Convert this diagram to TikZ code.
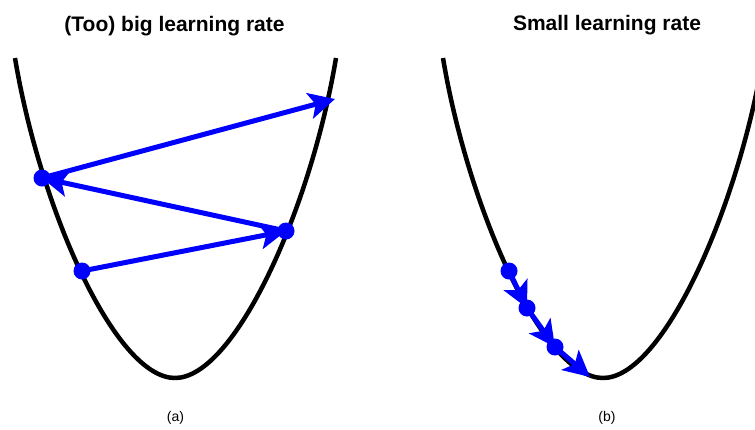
\documentclass[tikz,border=0pt]{standalone}
\usepackage{fontspec}
\setmainfont{Liberation Sans}
\usetikzlibrary{arrows.meta}
\begin{document}
\begin{tikzpicture}[x=1pt,y=-1pt,
  curve/.style={line width=4.5pt, black, line join=round},
  stepline/.style={line width=5pt, blue, -{Stealth[length=26pt,width=26pt,inset=6pt]}},
  dot/.style={circle, fill=blue, inner sep=0pt, minimum size=17pt},
  title/.style={font=\fontsize{21}{25}\selectfont\bfseries, anchor=base, inner sep=0pt},
  caption/.style={font=\fontsize{14}{17}\selectfont, inner sep=0pt}]
\useasboundingbox (0,0) rectangle (755,429);

% titles and captions
\node[title] (t1) at (174.5,31) {(Too) big learning rate};
\node[title] (t2) at (607,30) {Small learning rate};
\node[caption] (c1) at (175.5,418) {(a)};
\node[caption] (c2) at (607,418) {(b)};

% loss curves
\draw[curve] (15,58) .. controls (40,208) and (115,378) .. (175,378)
                     .. controls (235,378) and (311,208) .. (336,58);
\begin{scope}
\clip (0,0) rectangle (755,429);
\draw[curve] (443,58) .. controls (468,208) and (543,378) .. (603,378)
                      .. controls (663,378) and (738,208) .. (763,58);
\end{scope}

% big learning rate steps
\node[dot] (a1) at (82,271) {};
\node[dot] (a2) at (286,231) {};
\node[dot] (a3) at (42,178) {};
\coordinate (a4) at (335,99);
\draw[stepline] (a1.center) -- (a2.center);
\draw[stepline] (a2.center) -- (a3.center);
\draw[stepline] (a3.center) -- (a4);

% small learning rate steps
\node[dot] (b1) at (509,271) {};
\node[dot] (b2) at (527,308) {};
\node[dot] (b3) at (555,347) {};
\coordinate (b4) at (590,377);
\draw[stepline] (b1.center) -- (b2.center);
\draw[stepline] (b2.center) -- (b3.center);
\draw[stepline] (b3.center) -- (b4);
\end{tikzpicture}
\end{document}
